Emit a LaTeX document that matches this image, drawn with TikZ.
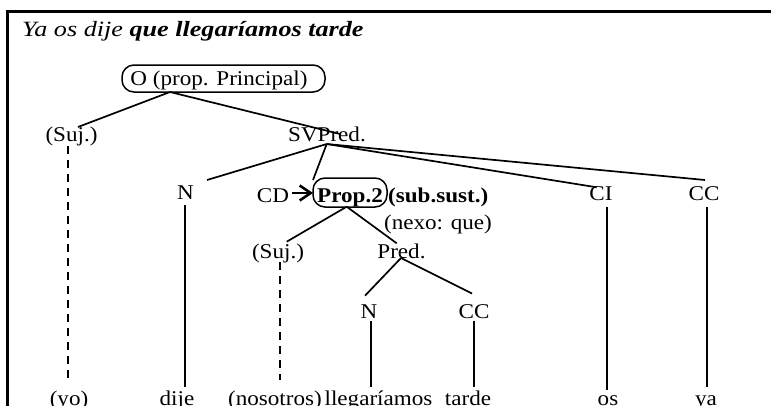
\documentclass[tikz,border=0pt]{standalone}
\usepackage{fontspec}
\setmainfont[FakeStretch=1.1]{Liberation Serif}
\newfontfamily\titlefont[FakeStretch=1.2]{Liberation Serif}
\usetikzlibrary{arrows.meta}
\begin{document}
\begin{tikzpicture}[x=1pt,y=-1pt,
  lbl/.style={anchor=base,inner sep=0pt,font=\fontsize{21}{25}\selectfont},
  pill/.style={draw,line width=1.5pt,rounded corners=12pt,inner sep=0pt},
  edge/.style={line width=1.7pt},
  dedge/.style={line width=1.7pt,dash pattern=on 8pt off 6pt},
  frame/.style={line width=3pt}]
\useasboundingbox (0,0) rectangle (771,405);
% frame
\coordinate (fb) at (7,412);
\coordinate (fc) at (7,11.7);
\coordinate (fr) at (775,11.7);
\draw[frame] (fb) -- (fc) -- (fr);
% title
\node[anchor=base west,inner sep=0pt,font=\titlefont\fontsize{21.8}{25}\selectfont\itshape] (title) at (22,36) {Ya os dije \textbf{que llegaríamos tarde}};
% boxes
\node[pill,minimum width=203pt,minimum height=27pt] (Obox) at (223.5,78.5) {};
\node[pill,minimum width=74pt,minimum height=29pt] (Pbox) at (350,192.5) {};
% labels
\node[lbl] (O) at (219,85) {O (prop. Principal)};
\node[lbl] (SujA) at (71.5,141) {(Suj.)};
\node[lbl] (SV) at (327,141) {SVPred.};
\node[lbl] (N1) at (185.5,199) {N};
\node[lbl] (CD) at (273,202) {CD};
\node[lbl,font=\fontsize{21}{25}\selectfont\bfseries] (P2) at (350,202) {Prop.2};
\node[lbl,anchor=base west,font=\fontsize{21}{25}\selectfont\bfseries] (sub) at (388,202) {(sub.sust.)};
\node[lbl] (nexo) at (438,229) {(nexo: que)};
\node[lbl] (SujB) at (278,258) {(Suj.)};
\node[lbl] (Pred) at (401.5,258) {Pred.};
\node[lbl] (CI) at (601,200) {CI};
\node[lbl] (CC1) at (704,200) {CC};
\node[lbl] (N2) at (369,318) {N};
\node[lbl] (CC2) at (474,318) {CC};
\node[lbl] (w1) at (69,405) {(yo)};
\node[lbl] (w2) at (177,405) {dije};
\node[lbl] (w3) at (275,405) {(nosotros)};
\node[lbl] (w4) at (378.5,405) {llegaríamos};
\node[lbl] (w5) at (468,405) {tarde};
\node[lbl] (w6) at (608,405) {os};
\node[lbl] (w7) at (706,405) {ya};
% connector points
\coordinate (Ob) at (170,92);
\coordinate (SujAt) at (78,127);
\coordinate (SVt) at (340,134);
\coordinate (SVb) at (326.7,144);
\coordinate (N1t) at (207,180);
\coordinate (Pt) at (313,180);
\coordinate (CIt) at (596.7,187.3);
\coordinate (CC1t) at (705,180);
\coordinate (SujAb) at (68.3,146);
\coordinate (w1t) at (68.3,378);
\coordinate (N1b) at (185,205);
\coordinate (w2t) at (185,387);
\coordinate (Pb) at (346.7,206.7);
\coordinate (SujBt) at (286.7,241.7);
\coordinate (Predt) at (396.7,243.3);
\coordinate (SujBb) at (280,262);
\coordinate (w3t) at (280,380);
\coordinate (Predb) at (401,258);
\coordinate (N2t) at (365,295.7);
\coordinate (CC2t) at (472,293.5);
\coordinate (N2b) at (371,321);
\coordinate (w4t) at (371,387);
\coordinate (CC2b) at (474,321);
\coordinate (w5t) at (474,387);
\coordinate (CIb) at (607,206.7);
\coordinate (w6t) at (607,390);
\coordinate (CC1b) at (706.7,206.7);
\coordinate (w7t) at (706.7,387);
\coordinate (CDr) at (291.7,193);
\coordinate (Pl) at (313,193);
% connectors
\draw[edge] (Ob) -- (SujAt);
\draw[edge] (Ob) -- (SVt);
\draw[edge] (SVb) -- (N1t);
\draw[edge] (SVb) -- (Pt);
\draw[edge] (SVb) -- (CIt);
\draw[edge] (SVb) -- (CC1t);
\draw[dedge] (SujAb) -- (w1t);
\draw[edge] (N1b) -- (w2t);
\draw[edge] (Pb) -- (SujBt);
\draw[edge] (Pb) -- (Predt);
\draw[dedge] (SujBb) -- (w3t);
\draw[edge] (Predb) -- (N2t);
\draw[edge] (Predb) -- (CC2t);
\draw[edge] (N2b) -- (w4t);
\draw[edge] (CC2b) -- (w5t);
\draw[edge] (CIb) -- (w6t);
\draw[edge] (CC1b) -- (w7t);
\draw[edge,-{Straight Barb[length=11pt,width=15pt,line width=2.6pt]}] (CDr) -- (Pl);
\end{tikzpicture}
\end{document}
